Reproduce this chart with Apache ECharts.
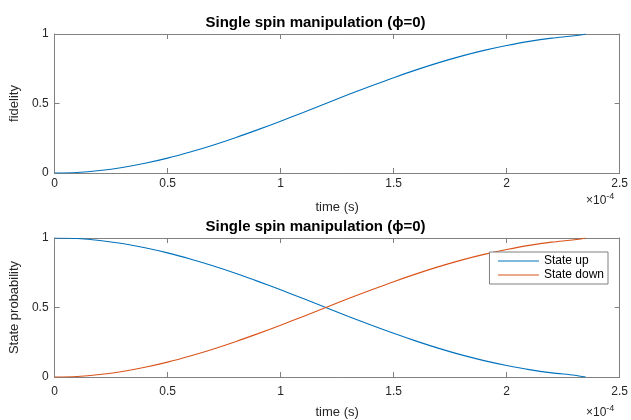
<!DOCTYPE html>
<html>
<head>
<meta charset="utf-8">
<script src="https://cdn.jsdelivr.net/npm/echarts@6/dist/echarts.min.js"></script>
<style>
  html, body { margin: 0; padding: 0; background: #fff; }
  #chart { width: 631px; height: 420px; }
</style>
</head>
<body>
<div id="chart"></div>
<script>
"use strict";
// time in units of 1e-4 s
var timeVals = [0, 0.1, 0.2, 0.3, 0.4, 0.5, 0.6, 0.7, 0.8, 0.9, 1.0, 1.1, 1.2, 1.3, 1.4, 1.5, 1.6, 1.7, 1.8, 1.9, 2.0, 2.1, 2.2, 2.3, 2.35];
var fidelity = [0, 0.004, 0.018, 0.040, 0.070, 0.107, 0.151, 0.200, 0.254, 0.312, 0.373, 0.436, 0.500, 0.564, 0.626, 0.686, 0.742, 0.794, 0.841, 0.882, 0.917, 0.947, 0.970, 0.987, 1.0];
var stateUp = [1, 0.996, 0.982, 0.960, 0.930, 0.893, 0.849, 0.800, 0.746, 0.688, 0.627, 0.564, 0.500, 0.436, 0.374, 0.314, 0.258, 0.206, 0.159, 0.118, 0.083, 0.053, 0.030, 0.013, 0];
var stateDown = [0, 0.004, 0.018, 0.040, 0.070, 0.107, 0.151, 0.200, 0.254, 0.312, 0.373, 0.436, 0.500, 0.564, 0.626, 0.686, 0.742, 0.794, 0.841, 0.882, 0.917, 0.947, 0.970, 0.987, 1.0];
var xTicks = [0, 0.5, 1, 1.5, 2, 2.5];
var yTicks = [0, 0.5, 1];

var FONT = '"Liberation Sans", Arial, sans-serif';
var AX = '#808080';
var TXT = '#262626';

function pairs(ys) {
    return timeVals.map(function (t, i) { return [t, ys[i]]; });
}

function xAx(grid, main, margin, gap) {
    return {
        type: 'value', gridIndex: grid, min: 0, max: 2.5, interval: 0.5,
        position: main ? 'bottom' : 'top',
        axisLine: {show: true, onZero: false, lineStyle: {color: AX, width: 1}},
        axisTick: {show: true, inside: true, length: 5, lineStyle: {color: AX}},
        axisLabel: {show: main, color: TXT, fontSize: 12, fontFamily: FONT, margin: margin || 5,
            formatter: function (v) { return xTicks.indexOf(v) >= 0 ? String(v) : ''; }},
        splitLine: {show: false},
        name: main ? 'time (s)' : '', nameLocation: 'middle', nameGap: gap || 28,
        nameTextStyle: {color: TXT, fontSize: 13, fontFamily: FONT}
    };
}

function yAx(grid, main, name) {
    return {
        type: 'value', gridIndex: grid, min: 0, max: 1, interval: 0.5,
        position: main ? 'left' : 'right',
        axisLine: {show: true, onZero: false, lineStyle: {color: AX, width: 1}},
        axisTick: {show: true, inside: true, length: 5, lineStyle: {color: AX}},
        axisLabel: {show: main, color: TXT, fontSize: 12, fontFamily: FONT, margin: 6,
            formatter: function (v) { return yTicks.indexOf(v) >= 0 ? String(v) : ''; }},
        splitLine: {show: false},
        name: main ? name : '', nameLocation: 'middle', nameGap: 30,
        nameTextStyle: {color: TXT, fontSize: 13, fontFamily: FONT}
    };
}

var lineBase = {type: 'line', symbol: 'none', smooth: 0.3};

var titleStyle = {fontSize: 15, fontWeight: 'bold', color: '#000', fontFamily: FONT};
var expRich = {s: {fontSize: 9, verticalAlign: 'top', padding: [0, 0, 8, 0], fill: TXT, fontFamily: FONT}};

var option = {
    backgroundColor: '#fff',
    animation: false,
    title: [
        {text: 'Single spin manipulation (\u03d5=0)', left: 'center', top: 10, textStyle: titleStyle},
        {text: 'Single spin manipulation (\u03d5=0)', left: 'center', top: 214, textStyle: titleStyle}
    ],
    grid: [
        {left: 52, right: 9, top: 34, height: 139},
        {left: 52, right: 9, top: 238, height: 139}
    ],
    xAxis: [xAx(0, true, 5, 28), xAx(0, false), xAx(1, true, 9, 29), xAx(1, false)],
    yAxis: [yAx(0, true, 'fidelity'), yAx(0, false), yAx(1, true, 'State probability'), yAx(1, false)],
    legend: {
        data: ['State up', 'State down'],
        orient: 'vertical', right: 23, top: 252,
        backgroundColor: '#fff', borderColor: '#808080', borderWidth: 1,
        padding: [3, 4, 3, 8], itemGap: 2, itemWidth: 41, itemHeight: 12,
        itemStyle: {opacity: 0},
        lineStyle: {width: 1},
        textStyle: {fontSize: 12, color: '#000', fontFamily: FONT}
    },
    graphic: [
        {type: 'text', left: 586, top: 192, style: {
            text: '\u00d710{s|-4}', fill: TXT, font: '12px ' + FONT, rich: expRich}},
        {type: 'text', left: 586, top: 404, style: {
            text: '\u00d710{s|-4}', fill: TXT, font: '12px ' + FONT, rich: expRich}}
    ],
    series: [
        Object.assign({}, lineBase, {name: 'fidelity', xAxisIndex: 0, yAxisIndex: 0,
            data: pairs(fidelity), itemStyle: {color: '#0072BD'}, lineStyle: {width: 1.1, color: '#0072BD'}}),
        Object.assign({}, lineBase, {name: 'State up', xAxisIndex: 2, yAxisIndex: 2,
            data: pairs(stateUp), itemStyle: {color: '#0072BD'}, lineStyle: {width: 1.1, color: '#0072BD'}}),
        Object.assign({}, lineBase, {name: 'State down', xAxisIndex: 2, yAxisIndex: 2,
            data: pairs(stateDown), itemStyle: {color: '#D95319'}, lineStyle: {width: 1.1, color: '#D95319'}})
    ]
};

var chart = echarts.init(document.getElementById('chart'));
chart.setOption(option);
</script>
</body>
</html>
